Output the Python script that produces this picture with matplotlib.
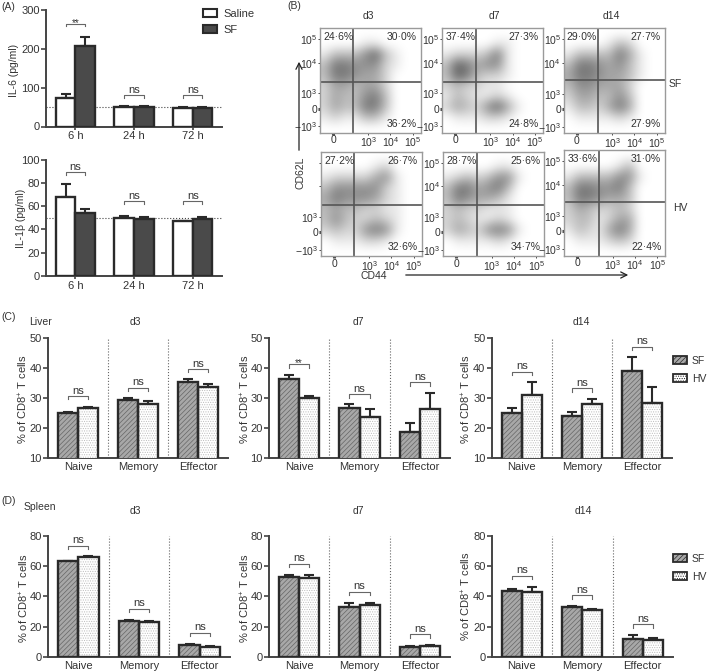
import matplotlib
matplotlib.use('Agg')
import matplotlib.pyplot as plt
import numpy as np
from matplotlib.patches import Patch, FancyArrowPatch

W, H = 709, 672
plt.rcParams['font.family'] = ['Liberation Sans', 'DejaVu Sans']
plt.rcParams['mathtext.fontset'] = 'custom'
plt.rcParams['mathtext.rm'] = 'Liberation Sans'
plt.rcParams['hatch.linewidth'] = 0.5
plt.rcParams['text.color'] = '#333333'
DARK = '#2a2a2a'
TXT = '#333333'

# panel A
hours = ['6 h', '24 h', '72 h']
il6_saline = [73, 51, 49]
il6_saline_top = [84, 52, 50]
il6_sf = [209, 51, 49]
il6_sf_top = [232, 53, 50]
il6_brackets = [265, 81, 81]
il6_marks = ['**', 'ns', 'ns']
il1_saline = [67.4, 49.7, 47]
il1_saline_top = [79, 51.4, 47.6]
il1_sf = [54, 49, 49]
il1_sf_top = [57.5, 51, 51]
il1_brackets = [89, 64, 64]
il1_marks = ['ns', 'ns', 'ns']

# panels C and D
subsets = ['Naive', 'Memory', 'Effector']
liver_d3_sf = [25.2, 29.4, 35.3]
liver_d3_sf_top = [25.5, 30.1, 36.3]
liver_d3_hv = [26.7, 28.0, 33.7]
liver_d3_hv_top = [27.2, 29.2, 34.6]
liver_d3_br = [30.7, 33.4, 39.7]
liver_d7_sf = [36.4, 26.7, 18.7]
liver_d7_sf_top = [37.9, 28.0, 21.9]
liver_d7_hv = [30.2, 23.9, 26.4]
liver_d7_hv_top = [30.7, 26.4, 31.8]
liver_d7_br = [41.3, 31.3, 35.3]
liver_d14_sf = [25.1, 24.1, 39.0]
liver_d14_sf_top = [26.9, 25.3, 43.8]
liver_d14_hv = [31.0, 28.0, 28.4]
liver_d14_hv_top = [35.3, 29.8, 33.8]
liver_d14_br = [38.9, 33.3, 47.1]

spleen_d3_sf = [63.2, 23.9, 8.0]
spleen_d3_sf_top = [63.6, 24.3, 8.4]
spleen_d3_hv = [65.9, 23.2, 6.6]
spleen_d3_hv_top = [66.7, 23.6, 7.3]
spleen_d3_br = [73.4, 31.8, 15.9]
spleen_d7_sf = [53.0, 33.1, 6.2]
spleen_d7_sf_top = [54.0, 35.6, 6.9]
spleen_d7_hv = [52.4, 34.0, 6.9]
spleen_d7_hv_top = [54.4, 35.8, 8.0]
spleen_d7_br = [61.4, 43.1, 14.8]
spleen_d14_sf = [43.8, 32.9, 11.9]
spleen_d14_sf_top = [44.9, 33.8, 14.6]
spleen_d14_hv = [43.1, 31.2, 11.0]
spleen_d14_hv_top = [46.4, 31.4, 12.6]
spleen_d14_br = [53.5, 40.7, 21.4]

# panel B, event density on a coarse grid (0-9)
sf_d3 = [[0, 0, 0, 0, 0, 0, 0, 0, 0, 0],
         [0, 0, 0, 0, 1, 1, 0, 0, 0, 0],
         [1, 3, 3, 3, 5, 7, 3, 1, 0, 0],
         [3, 6, 6, 5, 5, 5, 2, 1, 0, 0],
         [3, 6, 6, 5, 4, 4, 2, 0, 0, 0],
         [2, 4, 4, 3, 4, 4, 2, 0, 0, 0],
         [2, 4, 3, 3, 5, 6, 3, 0, 0, 0],
         [2, 4, 3, 3, 6, 6, 3, 0, 0, 0],
         [1, 2, 1, 1, 3, 3, 1, 0, 0, 0],
         [0, 0, 0, 0, 0, 0, 0, 0, 0, 0]]
sf_d7 = [[0, 0, 0, 0, 0, 0, 0, 0, 0, 0],
         [0, 0, 0, 0, 0, 1, 1, 0, 0, 0],
         [1, 2, 2, 2, 3, 6, 1, 0, 0, 0],
         [3, 7, 6, 4, 5, 5, 1, 0, 0, 0],
         [3, 7, 6, 3, 2, 2, 1, 0, 0, 0],
         [2, 3, 2, 2, 1, 1, 0, 0, 0, 0],
         [1, 3, 2, 1, 1, 2, 1, 0, 0, 0],
         [2, 4, 3, 2, 5, 7, 4, 1, 0, 0],
         [0, 1, 1, 1, 2, 2, 1, 0, 0, 0],
         [0, 0, 0, 0, 0, 0, 0, 0, 0, 0]]
sf_d14 = [[0, 0, 0, 0, 0, 0, 0, 0, 0, 0],
          [0, 0, 0, 0, 1, 3, 2, 0, 0, 0],
          [1, 3, 3, 3, 3, 6, 4, 1, 0, 0],
          [3, 6, 6, 5, 4, 5, 3, 1, 0, 0],
          [4, 6, 6, 5, 4, 4, 3, 1, 0, 0],
          [3, 5, 5, 4, 4, 4, 2, 0, 0, 0],
          [2, 4, 4, 3, 3, 5, 3, 0, 0, 0],
          [1, 3, 3, 2, 4, 6, 4, 0, 0, 0],
          [0, 1, 1, 1, 1, 2, 1, 0, 0, 0],
          [0, 0, 0, 0, 0, 0, 0, 0, 0, 0]]
hv_d3 = [[0, 0, 0, 0, 0, 0, 0, 0, 0, 0],
         [0, 0, 0, 0, 0, 1, 2, 0, 0, 0],
         [1, 2, 2, 2, 2, 4, 5, 1, 0, 0],
         [3, 5, 5, 5, 5, 5, 2, 1, 0, 0],
         [4, 6, 5, 5, 5, 4, 2, 1, 0, 0],
         [3, 4, 3, 3, 2, 2, 1, 1, 0, 0],
         [3, 5, 3, 2, 2, 3, 2, 1, 0, 0],
         [2, 3, 2, 2, 5, 6, 5, 1, 0, 0],
         [0, 1, 1, 1, 2, 2, 1, 0, 0, 0],
         [0, 0, 0, 0, 0, 0, 0, 0, 0, 0]]
hv_d7 = [[0, 0, 0, 0, 0, 0, 0, 0, 0, 0],
         [0, 0, 0, 0, 0, 1, 1, 0, 0, 0],
         [1, 2, 3, 2, 3, 5, 5, 1, 0, 0],
         [3, 6, 6, 4, 5, 6, 3, 0, 0, 0],
         [3, 6, 5, 4, 4, 3, 1, 0, 0, 0],
         [2, 3, 2, 2, 1, 1, 1, 0, 0, 0],
         [2, 3, 2, 1, 1, 2, 1, 0, 0, 0],
         [2, 4, 3, 2, 5, 6, 5, 1, 0, 0],
         [0, 1, 1, 1, 1, 2, 1, 0, 0, 0],
         [0, 0, 0, 0, 0, 0, 0, 0, 0, 0]]
hv_d14 = [[0, 0, 0, 0, 0, 0, 0, 0, 0, 0],
          [0, 0, 0, 0, 0, 1, 3, 0, 0, 0],
          [1, 3, 3, 3, 3, 5, 5, 1, 0, 0],
          [3, 6, 6, 5, 5, 6, 3, 0, 0, 0],
          [3, 6, 6, 5, 4, 4, 3, 0, 0, 0],
          [2, 4, 3, 2, 2, 3, 2, 0, 0, 0],
          [2, 3, 3, 1, 2, 4, 4, 0, 0, 0],
          [1, 3, 2, 1, 4, 6, 4, 0, 0, 0],
          [0, 1, 1, 1, 2, 3, 2, 0, 0, 0],
          [0, 0, 0, 0, 0, 0, 0, 0, 0, 0]]
flow_pct = {'sf_d3': ['24·6%', '30·0%', '36·2%'], 'sf_d7': ['37·4%', '27·3%', '24·8%'],
            'sf_d14': ['29·0%', '27·7%', '27·9%'], 'hv_d3': ['27·2%', '26·7%', '32·6%'],
            'hv_d7': ['28·7%', '25·6%', '34·7%'], 'hv_d14': ['33·6%', '31·0%', '22·4%']}
flow_x_ticks = ['0', '10$^3$', '10$^4$', '10$^5$']
flow_y_ticks = ['\u221210$^3$', '0', '10$^3$', '10$^4$', '10$^5$']

fig = plt.figure(figsize=(W / 100, H / 100), dpi=100)


def px_axes(l, t, r, b):
    return fig.add_axes([l / W, 1 - b / H, (r - l) / W, (b - t) / H])


def ftext(x, y, s, size=7.5, **kw):
    kw.setdefault('ha', 'center')
    kw.setdefault('va', 'center')
    fig.text(x / W, 1 - y / H, s, fontsize=size, color=TXT, **kw)


def style_bar_axes(ax, labels, ylim, yticks, xtick_len, xpad):
    ax.set_xlim(-0.5, 2.5)
    ax.set_ylim(*ylim)
    ax.set_xticks(range(3))
    ax.set_xticklabels(labels)
    ax.set_yticks(yticks)
    ax.spines['top'].set_visible(False)
    ax.spines['right'].set_visible(False)
    ax.spines['left'].set_linewidth(1.4)
    ax.spines['bottom'].set_linewidth(1.4)
    ax.spines['left'].set_color('#444444')
    ax.spines['bottom'].set_color('#444444')
    ax.tick_params(width=1.2, labelsize=8, labelcolor=TXT, color='#444444')
    ax.tick_params(axis='y', length=3.5, pad=1)
    ax.tick_params(axis='x', length=xtick_len, pad=xpad)
    ax.patch.set_alpha(0)


def bracket(ax, x, y, mark, leg):
    ax.plot([x - 1 / 6, x - 1 / 6, x + 1 / 6, x + 1 / 6], [y - leg, y, y, y - leg],
            color='#666666', lw=0.8, clip_on=False)
    if mark == '**':
        ax.text(x, y + leg * 0.5, mark, ha='center', va='center', fontsize=7, color=TXT)
    else:
        ax.text(x, y + leg * 0.2, mark, ha='center', va='bottom', fontsize=8, color=TXT)


def errs(ax, x, vals, tops):
    vals = np.array(vals)
    tops = np.array(tops)
    ax.errorbar(x, vals, yerr=[np.zeros(3), tops - vals], ls='none', ecolor=DARK,
                elinewidth=1.5, capsize=3.6, capthick=1.5, zorder=2)


def cell_panel(box, sf, sf_top, hv, hv_top, br, marks, ylim, yticks, leg):
    ax = px_axes(*box)
    x = np.arange(3)
    errs(ax, x - 1 / 6, sf, sf_top)
    errs(ax, x + 1 / 6, hv, hv_top)
    ax.bar(x - 1 / 6, sf, 1 / 3, color='#a8a8a8', edgecolor='#666666', hatch='///////', lw=0, zorder=3)
    ax.bar(x + 1 / 6, hv, 1 / 3, color='white', edgecolor='#bdbdbd', hatch='.......', lw=0, zorder=3)
    ax.bar(x - 1 / 6, sf, 1 / 3, fill=False, edgecolor=DARK, lw=1.7, zorder=4)
    ax.bar(x + 1 / 6, hv, 1 / 3, fill=False, edgecolor=DARK, lw=1.7, zorder=4)
    for v in [0.5, 1.5]:
        ax.axvline(v, color='#666666', ls=':', lw=0.8, zorder=1)
    for i in range(3):
        bracket(ax, i, br[i], marks[i], leg)
    style_bar_axes(ax, subsets, ylim, yticks, 0, 3)
    return ax


def cytokine_panel(box, sal, sal_top, sf, sf_top, br, marks, ylim, yticks, base, leg):
    ax = px_axes(*box)
    x = np.arange(3)
    ax.axhline(base, color='#444444', ls=':', lw=0.8, zorder=1)
    errs(ax, x - 1 / 6, sal, sal_top)
    errs(ax, x + 1 / 6, sf, sf_top)
    ax.bar(x - 1 / 6, sal, 1 / 3, color='white', edgecolor=DARK, lw=1.7, zorder=3)
    ax.bar(x + 1 / 6, sf, 1 / 3, color='#4a4a4a', edgecolor=DARK, lw=1.7, zorder=3)
    for i in range(3):
        bracket(ax, i, br[i], marks[i], leg)
    style_bar_axes(ax, hours, ylim, yticks, 2, 1.5)
    return ax


def flow_panel(box, density, vline, hline, pct, ylabels):
    ax = px_axes(*box)
    ax.imshow(np.array(density), cmap='gray_r', vmin=0, vmax=11.5, extent=(0, 10, 0, 10),
              origin='upper', interpolation='bicubic', aspect='auto')
    ax.set_xlim(0, 10)
    ax.set_ylim(0, 10)
    l, t, r, b = box
    ax.axvline((vline - l) / (r - l) * 10, color='#555555', lw=1.2)
    ax.axhline((b - hline) / (b - t) * 10, color='#555555', lw=1.2)
    ax.set_xticks([1.3, 4.8, 7.0, 9.2])
    ax.set_xticklabels(flow_x_ticks)
    ax.set_yticks([0.6, 2.3, 3.75, 6.67, 8.95])
    ax.set_yticklabels(ylabels)
    ax.tick_params(labelsize=7.5, length=1.5, width=0.7, pad=0.5, color='#444444', labelcolor=TXT)
    # thicker tick at the zero of each biexponential scale
    ax.get_xticklines()[0].set_markeredgewidth(2.2)
    ax.get_yticklines()[2].set_markeredgewidth(2.2)
    for s in ax.spines.values():
        s.set_color('#9a9a9a')
        s.set_linewidth(1.0)
    ax.text(0.03, 0.915, pct[0], transform=ax.transAxes, fontsize=7.5, ha='left', va='center', color=TXT)
    ax.text(0.96, 0.915, pct[1], transform=ax.transAxes, fontsize=7.5, ha='right', va='center', color=TXT)
    ax.text(0.96, 0.085, pct[2], transform=ax.transAxes, fontsize=7.5, ha='right', va='center', color=TXT)
    return ax


# A
ax_il6 = cytokine_panel((46, 10.5, 222, 126.5), il6_saline, il6_saline_top, il6_sf, il6_sf_top,
                        il6_brackets, il6_marks, (0, 300), [0, 100, 200, 300], 50, 6)
ax_il1 = cytokine_panel((46, 159.5, 222, 276), il1_saline, il1_saline_top, il1_sf, il1_sf_top,
                        il1_brackets, il1_marks, (0, 100), [0, 20, 40, 60, 80, 100], 49.5, 2)
ftext(14, 70, 'IL-6 (pg/ml)', rotation=90)
ftext(21, 218, 'IL-1β (pg/ml)', rotation=90)
ax_il6.legend(handles=[Patch(facecolor='white', edgecolor=DARK, lw=1.5, label='Saline'),
                       Patch(facecolor='#4a4a4a', edgecolor=DARK, lw=1.5, label='SF')],
              loc='upper left', bbox_to_anchor=(203 / W, 1 - 9 / H), bbox_transform=fig.transFigure,
              frameon=False, fontsize=8, handlelength=1.3, handleheight=0.75, labelspacing=0.5,
              handletextpad=0.55, borderaxespad=0, borderpad=0)

# B
no_top_labels = ['\u221210$^3$', '0', '10$^3$', '', '']
flow_panel((320, 28, 420.7, 132.7), sf_d3, 353, 81.7, flow_pct['sf_d3'], flow_y_ticks)
flow_panel((442.3, 28, 542.7, 132.7), sf_d7, 475.7, 81.7, flow_pct['sf_d7'], flow_y_ticks)
flow_panel((563.7, 28, 664.7, 133), sf_d14, 598.3, 80.3, flow_pct['sf_d14'], flow_y_ticks)
flow_panel((321, 151.7, 421.7, 256), hv_d3, 354.3, 205.3, flow_pct['hv_d3'], no_top_labels)
flow_panel((443.3, 151.7, 544.3, 256), hv_d7, 476.7, 205, flow_pct['hv_d7'], flow_y_ticks)
flow_panel((564.3, 150.3, 665.3, 255.7), hv_d14, 599.3, 202.3, flow_pct['hv_d14'], flow_y_ticks)
ftext(368, 16, 'd3')
ftext(494, 16, 'd7')
ftext(611, 16, 'd14')
ftext(675, 84, 'SF')
ftext(680, 208, 'HV')
ftext(301, 173, 'CD62L', rotation=90)
ftext(374, 276, 'CD44')
arrow = dict(arrowstyle='->', color='#222222', lw=0.9, mutation_scale=11)
fig.add_artist(FancyArrowPatch((299 / W, 1 - 153 / H), (299 / W, 1 - 59 / H),
                               transform=fig.transFigure, **arrow))
fig.add_artist(FancyArrowPatch((403 / W, 1 - 275 / H), (631 / W, 1 - 275 / H),
                               transform=fig.transFigure, **arrow))

# C
ns = ['ns', 'ns', 'ns']
ticks_c = [10, 20, 30, 40, 50]
cell_panel((48, 338.3, 228, 458.3), liver_d3_sf, liver_d3_sf_top, liver_d3_hv, liver_d3_hv_top,
           liver_d3_br, ns, (10, 50), ticks_c, 1.1)
cell_panel((269, 338.3, 450, 458.3), liver_d7_sf, liver_d7_sf_top, liver_d7_hv, liver_d7_hv_top,
           liver_d7_br, ['**', 'ns', 'ns'], (10, 50), ticks_c, 1.1)
ax_c3 = cell_panel((491.7, 338.3, 672, 458.3), liver_d14_sf, liver_d14_sf_top, liver_d14_hv, liver_d14_hv_top,
                   liver_d14_br, ns, (10, 50), ticks_c, 1.1)

# D
ticks_d = [0, 20, 40, 60, 80]
cell_panel((48, 536, 230, 656.7), spleen_d3_sf, spleen_d3_sf_top, spleen_d3_hv, spleen_d3_hv_top,
           spleen_d3_br, ns, (0, 80), ticks_d, 2.2)
cell_panel((269, 536, 450, 656.7), spleen_d7_sf, spleen_d7_sf_top, spleen_d7_hv, spleen_d7_hv_top,
           spleen_d7_br, ns, (0, 80), ticks_d, 2.2)
ax_d3 = cell_panel((491.7, 536, 673, 656.7), spleen_d14_sf, spleen_d14_sf_top, spleen_d14_hv, spleen_d14_hv_top,
                   spleen_d14_br, ns, (0, 80), ticks_d, 2.2)

for a, top in [(ax_c3, 356), (ax_d3, 554)]:
    a.legend(handles=[Patch(facecolor='#a8a8a8', edgecolor=DARK, hatch='///////', lw=1.3, label='SF'),
                      Patch(facecolor='white', edgecolor=DARK, hatch='.......', lw=1.3, label='HV')],
             loc='upper left', bbox_to_anchor=(673 / W, 1 - top / H),
             bbox_transform=fig.transFigure, frameon=False, fontsize=7.5, handlelength=1.3,
             handleheight=0.8, labelspacing=0.75, handletextpad=0.5, borderaxespad=0, borderpad=0)

cd8 = '% of CD8$^{+}$ T cells'
for x, y in [(23, 399), (245, 399), (466, 399), (24, 598), (245, 598), (466, 596)]:
    ftext(x, y, cd8, 8, rotation=90)
ftext(41, 322, 'Liver')
ftext(135, 322, 'd3')
ftext(358, 322, 'd7')
ftext(581, 322, 'd14')
ftext(40, 507, 'Spleen')
ftext(135, 511, 'd3')
ftext(358, 511, 'd7')
ftext(583, 511, 'd14')

ftext(1, 7, '(A)', ha='left')
ftext(287, 6, '(B)', ha='left')
ftext(1, 317, '(C)', ha='left')
ftext(1, 501, '(D)', ha='left')

fig.savefig('out.png', dpi=100)
